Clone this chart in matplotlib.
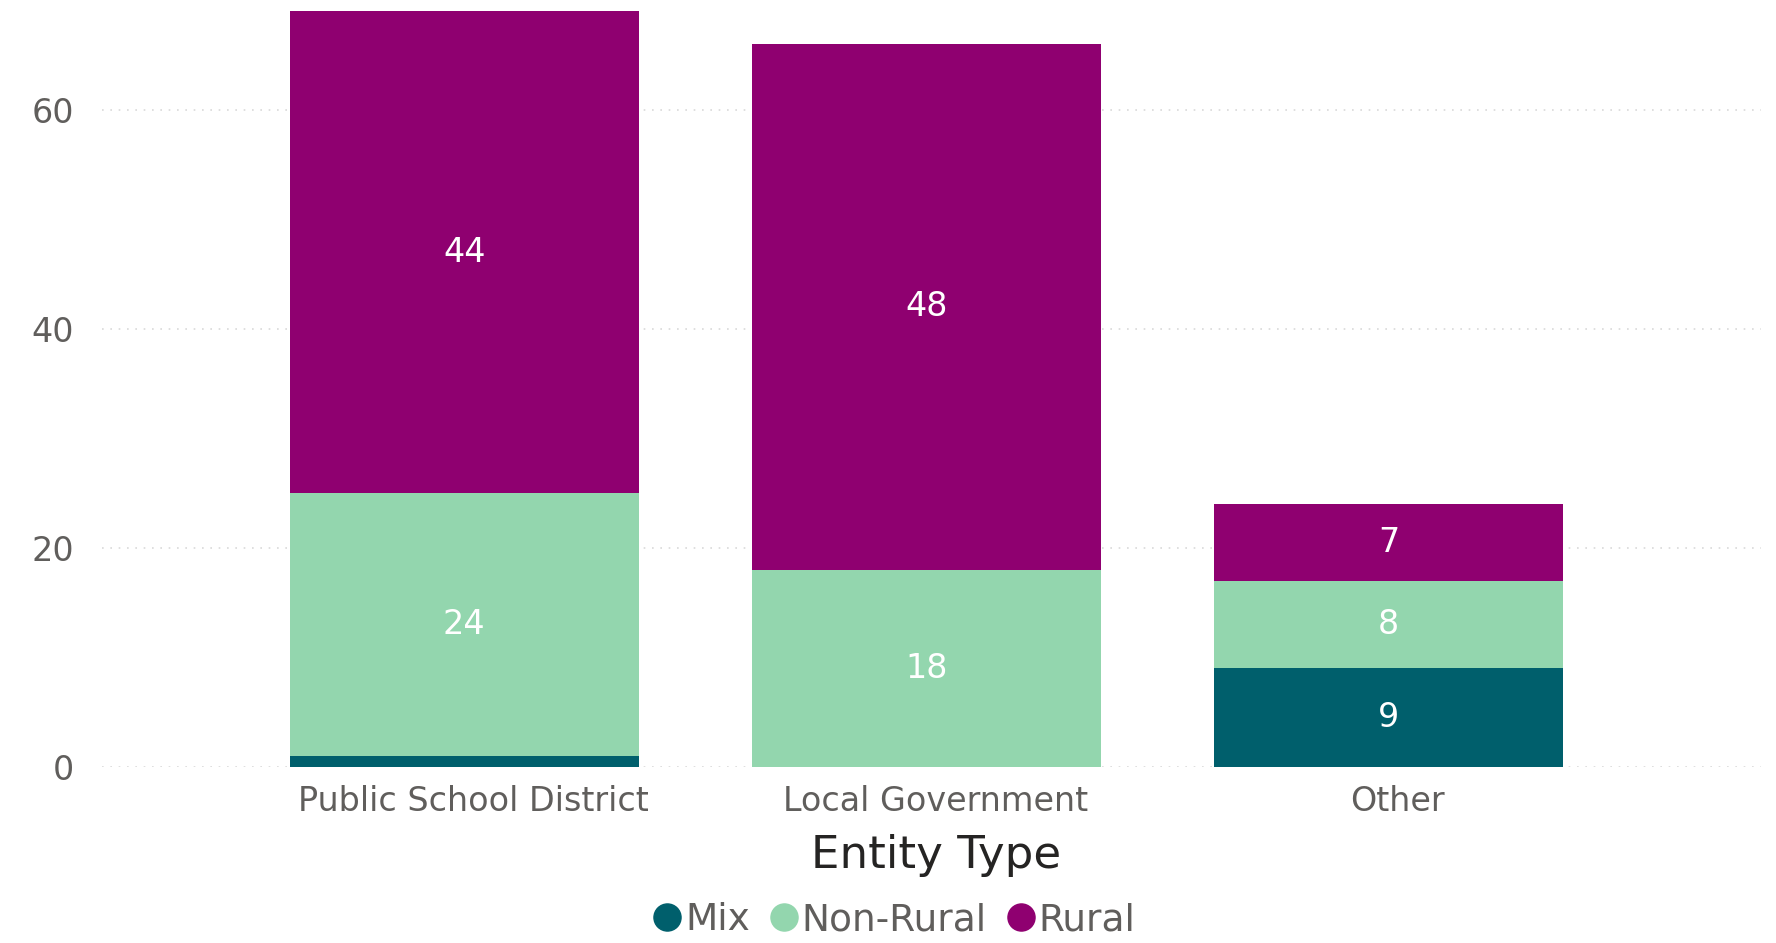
import matplotlib.pyplot as plt
import numpy as np

# Entity types and the count of each locale group per type
categories = ["Public School District", "Local Government", "Other"]
mix = [1, 0, 9]
non_rural = [24, 18, 8]
rural = [44, 48, 7]

series_names = ["Mix", "Non-Rural", "Rural"]
series_colors = ["#005F6C", "#93D6AE", "#8F0070"]

plt.rcParams['font.family'] = ['DejaVu Sans']

fig = plt.figure(figsize=(17.76, 9.43), dpi=100)
ax = fig.add_axes([0.0574, 0.1866, 0.9342, 0.8134])

x = np.arange(len(categories))
width = 0.755
bottom = np.zeros(len(categories))
for name, vals, col in zip(series_names, [mix, non_rural, rural], series_colors):
    vals = np.array(vals, dtype=float)
    ax.bar(x, vals, width, bottom=bottom, color=col, label=name, zorder=3)
    # white value labels in the middle of each segment (skip the tiny ones)
    for xi, v, b in zip(x, vals, bottom):
        if v >= 3:
            ax.text(xi, b + v / 2, f"{int(v)}", ha="center", va="center",
                    color="white", fontsize=24, zorder=4)
    bottom += vals

ax.set_xlim(-0.784, 2.806)
ax.set_ylim(0, 70)
ax.set_yticks([0, 20, 40, 60])
ax.set_xticks(x + 0.02)
ax.set_xticklabels(categories)
ax.tick_params(axis="both", length=0, labelsize=24, colors="#605E5C")
ax.tick_params(axis="x", pad=13)
ax.tick_params(axis="y", pad=20)
ax.grid(axis="y", color="#D9D9D9", linestyle=(0, (1, 4)), linewidth=1.2, zorder=0)
for s in ax.spines.values():
    s.set_visible(False)

fig.text(0.527, 0.093, "Entity Type", ha="center", va="center",
         fontsize=32.5, color="#252423")

handles = [plt.Line2D([], [], marker="o", linestyle="", markersize=19.5,
                      color=c) for c in series_colors]
fig.legend(handles, series_names, loc="center", bbox_to_anchor=(0.497, 0.024),
           ncol=3, frameon=False, fontsize=27, handletextpad=-0.52,
           columnspacing=-0.1, labelcolor="#605E5C")

fig.savefig("out.png", dpi=100)
